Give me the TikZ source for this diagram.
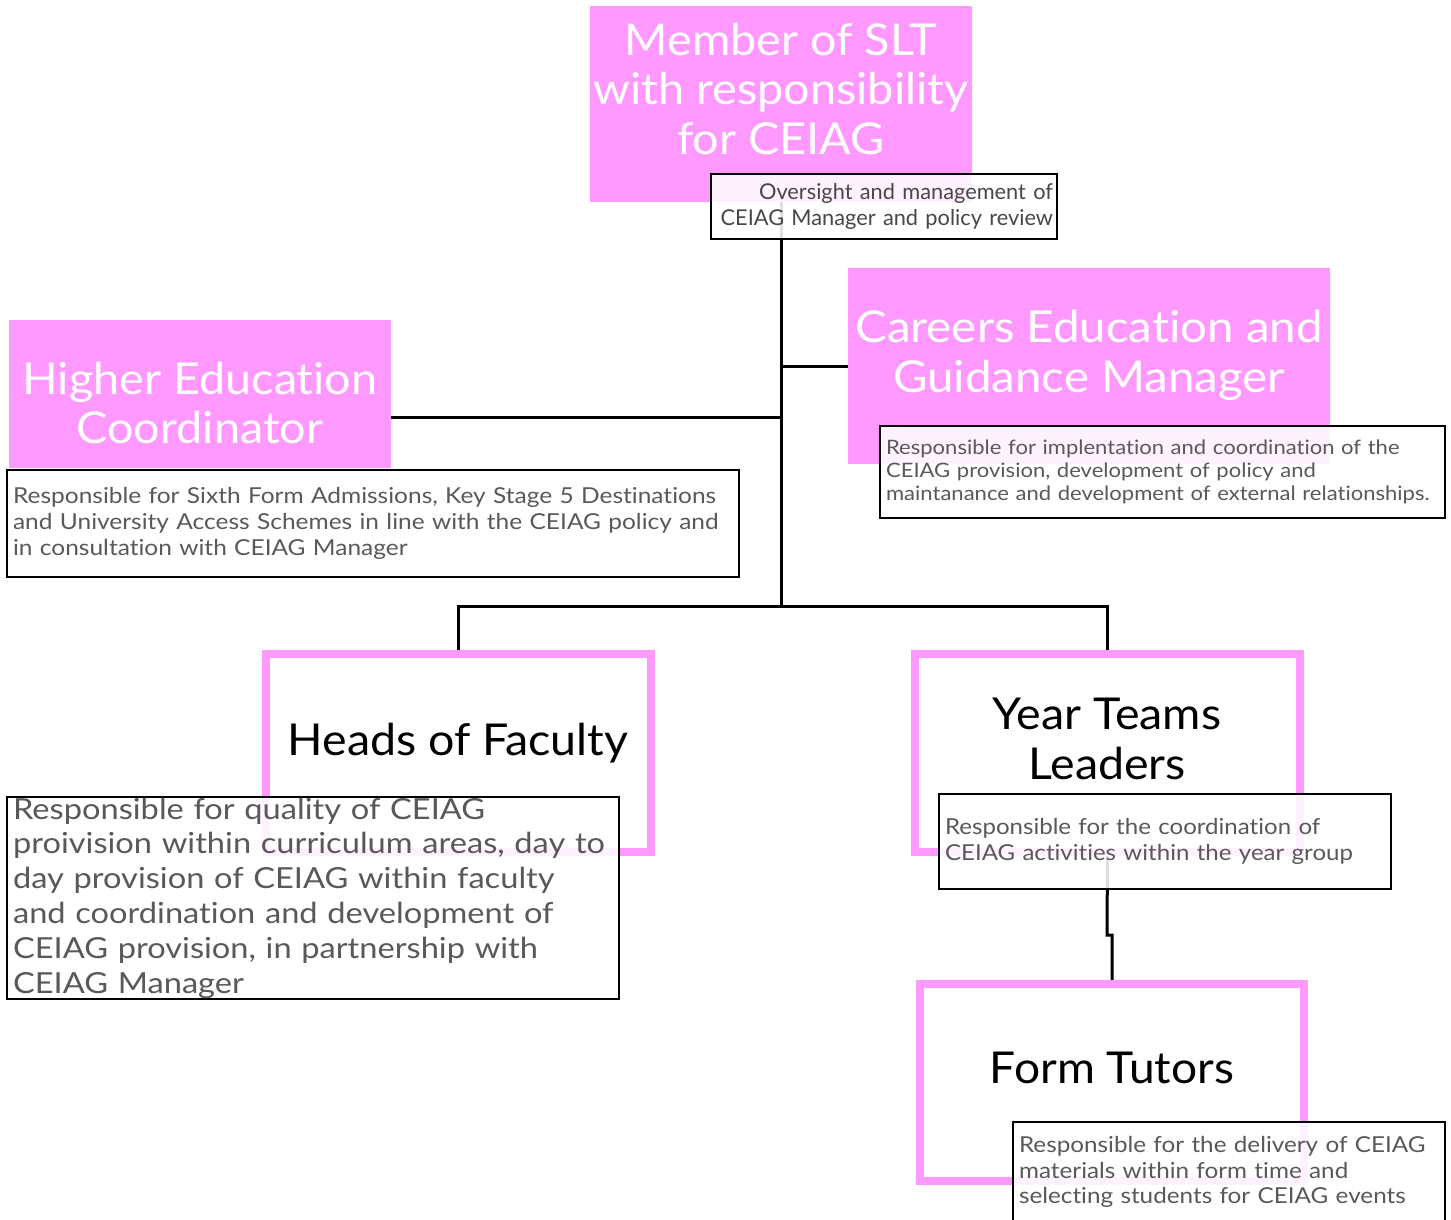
\documentclass[tikz,border=0pt]{standalone}
\usepackage{fontspec}
\setmainfont{Lato}[Ligatures=NoCommon]
\usetikzlibrary{calc}
\definecolor{pinkfill}{RGB}{255,153,255}
\definecolor{desctext}{RGB}{89,89,89}
\pgfdeclarelayer{bg}
\pgfsetlayers{bg,main}
\begin{document}
\begin{tikzpicture}[x=0.02cm,y=-0.02cm,
  pinkbox/.style={rectangle, fill=pinkfill, inner sep=0, outer sep=0},
  outlinebox/.style={rectangle, draw=pinkfill, line width=0.16cm, fill=white, inner sep=0, outer sep=0},
  titlew/.style={align=center, inner sep=0, text=white, font=\fontsize{25}{28.3}\selectfont\addfontfeatures{FakeStretch=1.065}},
  titleb/.style={align=center, inner sep=0, text=black, font=\fontsize{25}{28.3}\selectfont\addfontfeatures{FakeStretch=1.06}},
  desc/.style={rectangle, draw=black, line width=0.05cm, fill=white, fill opacity=0.88, text opacity=1, text=desctext, inner xsep=0.12cm, inner ysep=0, outer sep=0, align=left},
  conn/.style={draw=black, line width=0.06cm}]
\useasboundingbox (0,0) rectangle (1451,1220);

% pink filled boxes
\node[pinkbox, minimum width=7.64cm, minimum height=3.92cm] (slt) at (781,104) {};
\node[pinkbox, minimum width=7.64cm, minimum height=2.96cm] (hec) at (200,394) {};
\node[pinkbox, minimum width=9.64cm, minimum height=3.92cm] (cegm) at (1089,366) {};
% outlined boxes
\node[outlinebox, minimum width=7.7cm, minimum height=3.96cm] (hof) at (458.5,753) {};
\node[outlinebox, minimum width=7.7cm, minimum height=3.96cm] (ytl) at (1107.5,753) {};
\node[outlinebox, minimum width=7.68cm, minimum height=3.94cm] (ft) at (1112,1082.5) {};

% titles
\node[titlew] (slt-t) at (781,89) {Member of SLT\\with responsibility\\for CEIAG};
\node[titlew] (hec-t) at (200,403) {Higher Education\\Coordinator};
\node[titlew, font=\fontsize{25}{28.3}\selectfont\addfontfeatures{FakeStretch=1.08}] (cegm-t) at (1089,355) {Careers Education and\\Guidance Manager};
\node[titleb] (hof-t) at (458,743) {Heads of Faculty};
\node[titleb] (ytl-t) at (1107,739) {Year Teams\\Leaders};
\node[titleb, font=\fontsize{25}{28.3}\selectfont\addfontfeatures{FakeStretch=1.05}] (ft-t) at (1112,1068) {Form Tutors};

% connectors
\coordinate (j) at (781,606);
\coordinate (m) at (1107,935);
\begin{pgfonlayer}{bg}
\draw[conn] (slt.south) -- (j);
\draw[conn] (slt.south |- cegm.west) -- (cegm.west);
\draw[conn] ([yshift=-0.48cm]hec.east) -- ([yshift=-0.48cm]hec.east -| slt.south);
\draw[conn] (hof.north) |- (j) -| (ytl.north);
\draw[conn] (ytl.south) -- (m) -| (ft.north);
\end{pgfonlayer}

% description boxes
\node[desc, align=right, text=black!72, inner xsep=0.08cm, minimum width=6.92cm, text width=6.76cm, minimum height=1.3cm, font=\fontsize{12.4}{15.3}\selectfont] (slt-d) at (884,206.5)
  {Oversight and management of\\CEIAG Manager and policy review};
\node[desc, minimum width=14.64cm, text width=14.4cm, minimum height=2.14cm, font=\fontsize{12.5}{14.7}\selectfont\addfontfeatures{FakeStretch=1.115}] (hec-d) at (373,523.5)
  {Responsible for Sixth Form Admissions, Key Stage 5 Destinations\\and University Access Schemes in line with the CEIAG policy and\\in consultation with CEIAG Manager};
\node[desc, minimum width=11.3cm, text width=11.06cm, minimum height=1.84cm, font=\fontsize{11.3}{13.3}\selectfont\addfontfeatures{FakeStretch=1.11}] (cegm-d) at (1162.5,472)
  {Responsible for implentation and coordination of the\\CEIAG provision, development of policy and\\maintanance and development of external relationships.};
\node[desc, minimum width=12.24cm, text width=12.0cm, minimum height=4.04cm, font=\fontsize{16.5}{19.8}\selectfont\addfontfeatures{FakeStretch=1.125}] (hof-d) at (313,898)
  {Responsible for quality of CEIAG\\proivision within curriculum areas, day to\\day provision of CEIAG within faculty\\and coordination and development of\\CEIAG provision, in partnership with\\CEIAG Manager};
\node[desc, minimum width=9.04cm, text width=8.8cm, minimum height=1.9cm, font=\fontsize{12.5}{14.7}\selectfont\addfontfeatures{FakeStretch=1.096}] (ytl-d) at (1165,841.5)
  {Responsible for the coordination of\\CEIAG activities within the year group};
\node[desc, minimum width=8.64cm, text width=8.4cm, minimum height=2cm, font=\fontsize{12.5}{14.7}\selectfont\addfontfeatures{FakeStretch=1.105}] (ft-d) at (1229,1172)
  {Responsible for the delivery of CEIAG\\materials within form time and\\selecting students for CEIAG events};
\end{tikzpicture}
\end{document}
